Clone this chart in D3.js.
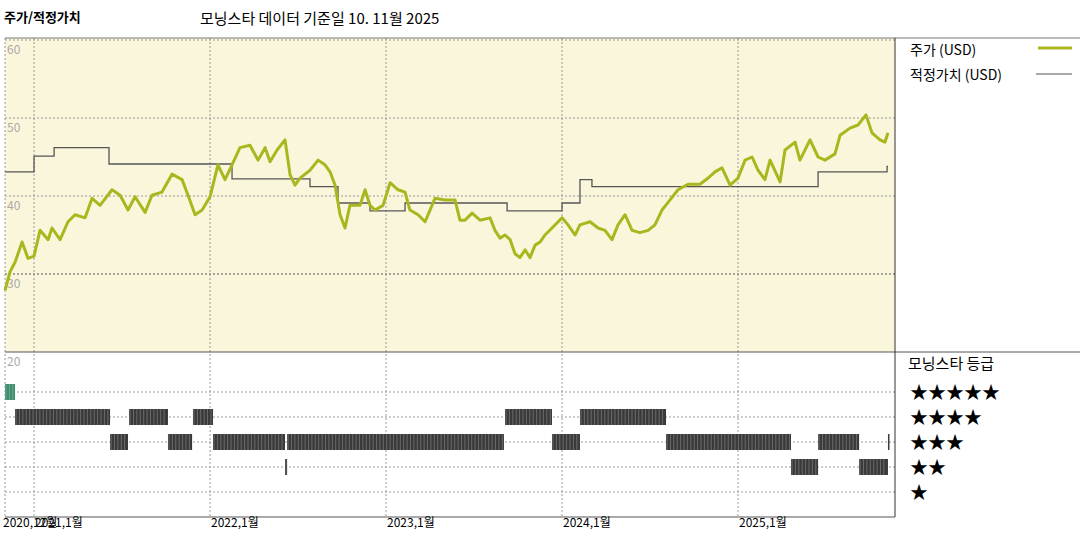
<!DOCTYPE html>
<html><head><meta charset="utf-8">
<script src="https://cdn.jsdelivr.net/npm/d3@7"></script>
<style>body{margin:0;background:#fff}text{font-family:"Noto Sans CJK KR","DejaVu Sans",sans-serif}</style>
</head><body><div id="chart"></div>
<script>
'use strict';
// ---------- Data (decimal years) ---------- //
var priceT = [2020.835,2020.864,2020.892,2020.932,2020.966,2021.000,2021.034,2021.080,2021.102,2021.148,2021.193,2021.233,2021.290,2021.330,2021.375,2021.443,2021.489,2021.534,2021.574,2021.631,2021.670,2021.727,2021.784,2021.841,2021.875,2021.915,2021.955,2022.000,2022.045,2022.085,2022.125,2022.170,2022.227,2022.273,2022.313,2022.341,2022.381,2022.426,2022.455,2022.483,2022.511,2022.568,2022.614,2022.653,2022.682,2022.710,2022.739,2022.767,2022.795,2022.852,2022.881,2022.909,2022.938,2022.983,2023.023,2023.068,2023.108,2023.136,2023.182,2023.222,2023.278,2023.335,2023.392,2023.420,2023.449,2023.489,2023.534,2023.591,2023.619,2023.648,2023.676,2023.705,2023.733,2023.761,2023.790,2023.818,2023.847,2023.875,2023.903,2023.943,2024.000,2024.034,2024.074,2024.102,2024.159,2024.205,2024.244,2024.284,2024.318,2024.358,2024.398,2024.443,2024.489,2024.528,2024.568,2024.614,2024.659,2024.716,2024.784,2024.830,2024.869,2024.909,2024.955,2025.000,2025.040,2025.080,2025.114,2025.153,2025.182,2025.239,2025.267,2025.324,2025.352,2025.409,2025.455,2025.494,2025.551,2025.580,2025.636,2025.682,2025.727,2025.761,2025.807,2025.835,2025.852];
var priceV = [27.9,30.3,31.5,34.1,32,32.3,35.6,34.4,35.9,34.4,36.7,37.6,37.2,39.7,38.8,40.8,40.1,38.2,39.9,37.9,40.1,40.5,42.8,42.1,40.1,37.6,38.2,39.9,44,42.1,44,46.2,46.5,44.6,46.2,44.4,45.9,47.2,42.7,41.4,42.3,43.3,44.6,44,43.1,41.4,37.6,35.9,38.8,38.8,40.8,38.8,38.2,38.8,41.7,40.8,40.5,38.2,37.6,36.7,39.7,39.5,39.5,36.9,36.9,37.8,36.9,37.2,35.6,34.6,35,34.4,32.6,32.1,33.1,32.1,33.7,34.1,35,35.9,37.2,36.3,35,36.3,36.7,35.9,35.6,34.4,36.3,37.6,35.6,35.3,35.6,36.3,38.2,39.5,40.8,41.5,41.5,42.3,43.1,43.6,41.4,42.3,44.6,45,43.3,42.1,44.6,41.8,45.9,46.9,44.6,47.2,45,44.6,45.4,47.8,48.7,49.1,50.4,48.1,47.2,46.9,48.1];
var fairT = [2020.835,2021.0,2021.114,2021.426,2022.125,2022.568,2022.727,2022.909,2023.108,2023.688,2024.0,2024.102,2024.170,2025.455,2025.847,2025.852];
var fairV = [43.1,45.1,46.2,44.1,42.2,41.2,39.1,38.1,39.1,38.1,39.1,42.1,41.2,43.1,43.8,43.8];
var rateStart = [2020.835,2020.892,2021.432,2021.540,2021.761,2021.903,2022.017,2022.426,2022.438,2023.676,2023.943,2024.102,2024.591,2025.301,2025.455,2025.688,2025.852];
var rateEnd   = [2020.892,2021.432,2021.534,2021.761,2021.898,2022.017,2022.426,2022.438,2023.670,2023.943,2024.102,2024.591,2025.301,2025.455,2025.688,2025.852,2025.858];
var rateStar  = [5,4,3,4,3,4,3,2,3,4,3,4,3,2,3,2,3];
var yTicks = [60,50,40,30];
var xTicks = [2021,2022,2023,2024,2025];
var xTickLabels = ['2021,1월','2022,1월','2023,1월','2024,1월','2025,1월'];
var starLevels = [5,4,3,2,1];

// ---------- Layout ---------- //
var W = 1080, H = 540, L = 5, R = 895;
var svg = d3.select('#chart').append('svg').attr('width', W).attr('height', H);
var x = d3.scaleLinear().domain([2020.835, 2025.892]).range([L, R]);
var y = d3.scaleLinear().domain([20, 60]).range([352, 40]);
var yr = d3.scaleLinear().domain([5, 1]).range([392, 492]);

svg.append('rect').attr('x', L).attr('y', 38).attr('width', R - L).attr('height', 314).attr('fill', '#faf6db');

var dash = '2,2';
// horizontal grid
svg.selectAll('.hg').data(yTicks).enter().append('line')
  .attr('x1', L).attr('x2', R).attr('y1', function (d) { return y(d); }).attr('y2', function (d) { return y(d); })
  .attr('stroke', function (d) { return d === 30 ? '#555' : '#999'; }).attr('stroke-dasharray', dash);
svg.selectAll('.rg').data(starLevels).enter().append('line')
  .attr('x1', L).attr('x2', R).attr('y1', function (d) { return yr(d); }).attr('y2', function (d) { return yr(d); })
  .attr('stroke', '#999').attr('stroke-dasharray', dash);
// vertical grid
svg.selectAll('.vg').data([2020.835].concat(xTicks)).enter().append('line')
  .attr('x1', function (d) { return x(d); }).attr('x2', function (d) { return x(d); })
  .attr('y1', 38).attr('y2', 517).attr('stroke', '#999').attr('stroke-dasharray', dash);

// y labels
svg.selectAll('.yl').data(yTicks.concat([20])).enter().append('text')
  .attr('x', 7).attr('y', function (d) { return y(d) + 14; })
  .attr('font-size', 12).attr('fill', '#aaa').text(function (d) { return d; });

// frames
svg.append('line').attr('x1', L).attr('x2', W).attr('y1', 38).attr('y2', 38).attr('stroke', '#777');
svg.append('line').attr('x1', L).attr('x2', W).attr('y1', 352).attr('y2', 352).attr('stroke', '#555');
svg.append('line').attr('x1', L).attr('x2', R).attr('y1', 517).attr('y2', 517).attr('stroke', '#555');
svg.append('line').attr('x1', R).attr('x2', R).attr('y1', 38).attr('y2', 517).attr('stroke', '#333');

// fair value
svg.append('path').datum(d3.range(fairT.length))
  .attr('d', d3.line().curve(d3.curveStepAfter).x(function (i) { return x(fairT[i]); }).y(function (i) { return y(fairV[i]); }))
  .attr('fill', 'none').attr('stroke', '#555').attr('stroke-width', 1.3);
// price
svg.append('path').datum(d3.range(priceT.length))
  .attr('d', d3.line().x(function (i) { return x(priceT[i]); }).y(function (i) { return y(priceV[i]); }))
  .attr('fill', 'none').attr('stroke', '#a9b71e').attr('stroke-width', 3).attr('stroke-linejoin', 'round');

// ratings
var segs = d3.range(rateStar.length);
svg.selectAll('.rb').data(segs).enter().append('rect')
  .attr('x', function (i) { return x(rateStart[i]); })
  .attr('width', function (i) { return Math.max(1.5, x(rateEnd[i]) - x(rateStart[i])); })
  .attr('y', function (i) { return yr(rateStar[i]) - 8; }).attr('height', 16)
  .attr('fill', function (i) { return rateStar[i] === 5 ? '#3e8f6e' : '#3a3a3a'; });
// weekly strokes inside bars
segs.forEach(function (i) {
  var ticks = d3.range(x(rateStart[i]) + 1, x(rateEnd[i]) - 1, 3.4);
  svg.selectAll(null).data(ticks).enter().append('line')
    .attr('x1', function (d) { return d; }).attr('x2', function (d) { return d; })
    .attr('y1', yr(rateStar[i]) - 8).attr('y2', yr(rateStar[i]) + 8)
    .attr('stroke', rateStar[i] === 5 ? '#6fb394' : '#777').attr('stroke-width', 0.8);
});

// x labels
svg.append('text').attr('x', 3).attr('y', 527).attr('font-size', 12).text('2020,12월');
svg.selectAll('.xl').data(xTicks).enter().append('text')
  .attr('x', function (d) { return x(d) + 1; }).attr('y', 527).attr('font-size', 12)
  .text(function (d, i) { return xTickLabels[i]; });

// titles
svg.append('text').attr('x', 4).attr('y', 22).attr('font-size', 13).attr('font-weight', 'bold').text('주가/적정가치');
svg.append('text').attr('x', 200).attr('y', 24).attr('font-size', 15).text('모닝스타 데이터 기준일 10. 11월 2025');

// legend
svg.append('text').attr('x', 910).attr('y', 55).attr('font-size', 14).text('주가 (USD)');
svg.append('line').attr('x1', 1038).attr('x2', 1072).attr('y1', 48).attr('y2', 48).attr('stroke', '#a9b71e').attr('stroke-width', 3);
svg.append('text').attr('x', 910).attr('y', 80).attr('font-size', 14).text('적정가치 (USD)');
svg.append('line').attr('x1', 1036).attr('x2', 1072).attr('y1', 74).attr('y2', 74).attr('stroke', '#555').attr('stroke-width', 1.2);
svg.append('text').attr('x', 908).attr('y', 369).attr('font-size', 15).text('모닝스타 등급');
svg.selectAll('.st').data(starLevels).enter().append('text')
  .attr('x', 910).attr('y', function (d) { return yr(d) + 7; }).attr('font-size', 18)
  .attr('font-family', 'DejaVu Sans').text(function (d) { return '★'.repeat(d); });
</script></body></html>
